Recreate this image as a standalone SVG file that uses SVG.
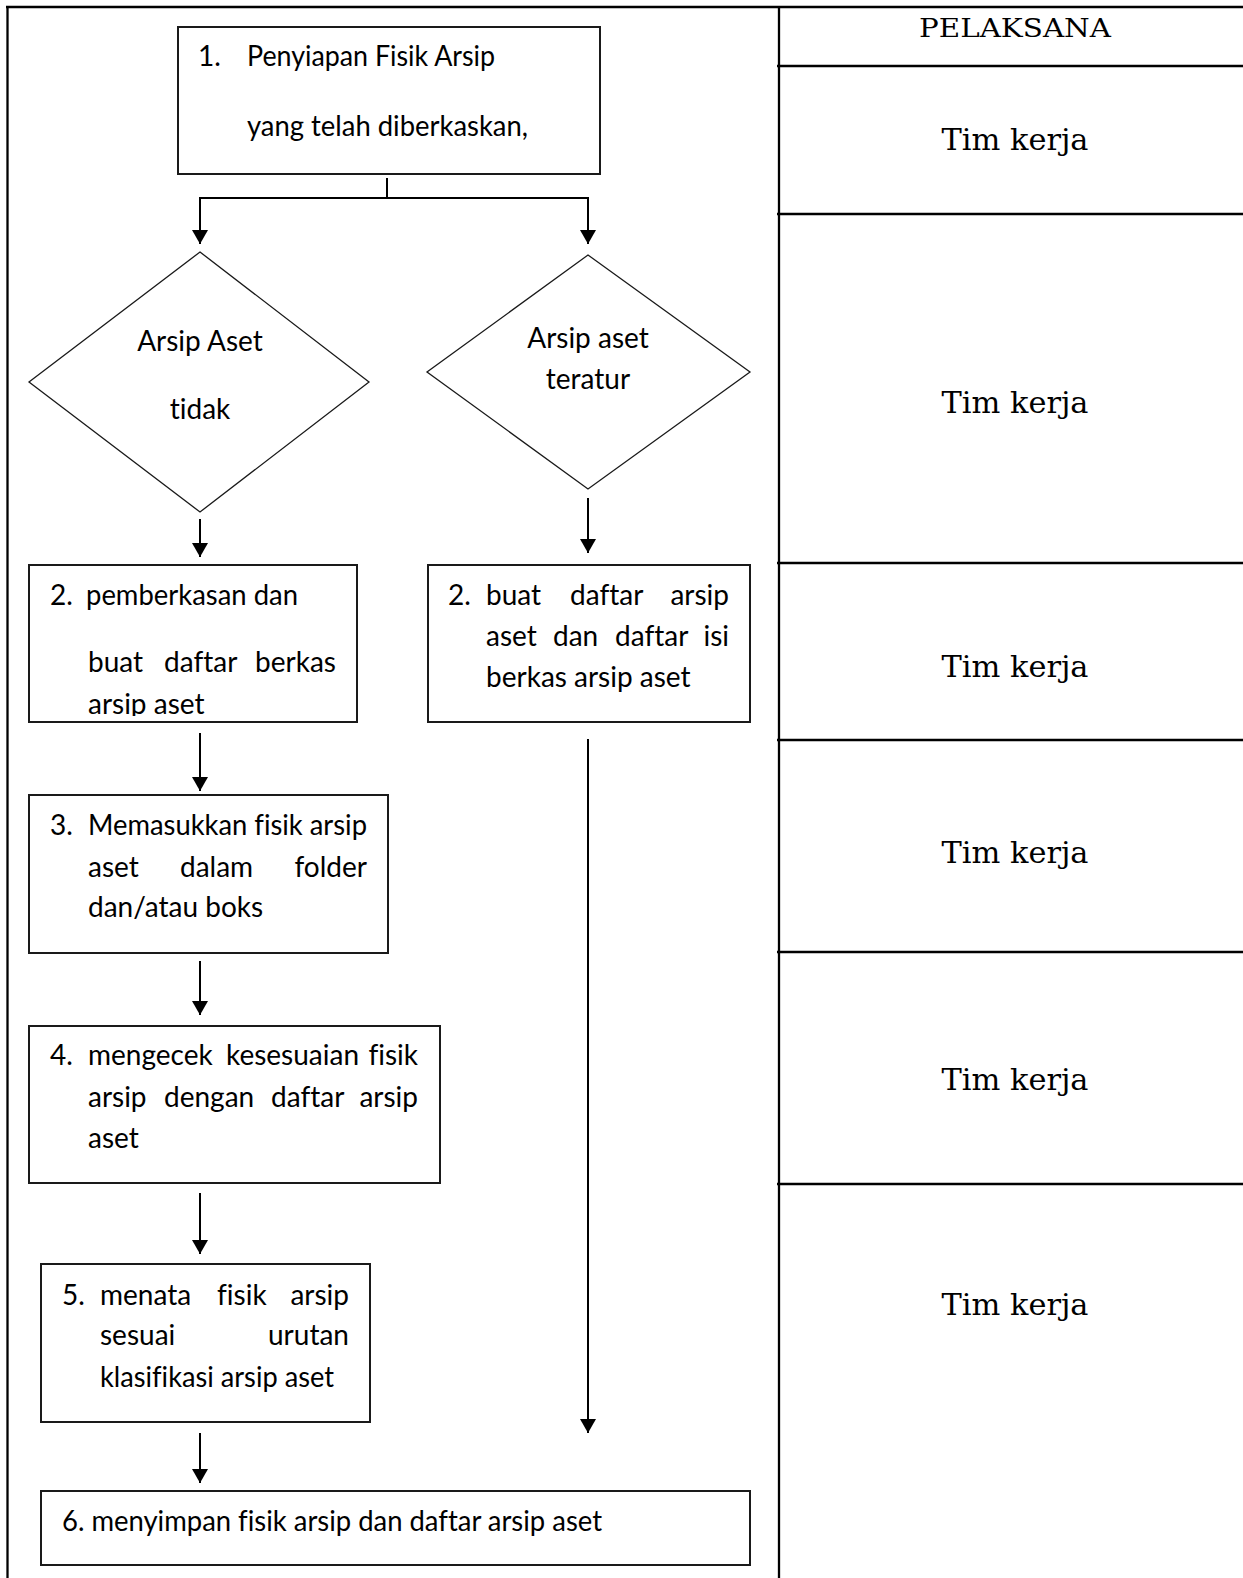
<svg xmlns="http://www.w3.org/2000/svg" width="1243" height="1578" viewBox="0 0 1243 1578">
<style>
.frame{stroke:#000;stroke-width:2.3;fill:none}
.box{fill:#fff;stroke:#1a1a1a;stroke-width:2}
.dia{fill:#fff;stroke:#1a1a1a;stroke-width:1.3}
.conn{stroke:#000;stroke-width:2;fill:none}
.t{font-family:Lato,"Liberation Sans",sans-serif;font-size:28px;fill:#000;font-variant-ligatures:none}
.tc{font-family:Lato,"Liberation Sans",sans-serif;font-size:28px;fill:#000;text-anchor:middle;font-variant-ligatures:none}
.te{text-anchor:end}
.ser{font-family:"DejaVu Serif","Liberation Serif",serif;fill:#000;text-anchor:middle}
</style>
<defs>
<marker id="arr" viewBox="0 0 14 16" refX="14" refY="8" markerWidth="14" markerHeight="16" markerUnits="userSpaceOnUse" orient="auto">
<path d="M0,0 L14,8 L0,16 Z" fill="#000"/>
</marker>
<clipPath id="clip2l"><rect x="29" y="565" width="328" height="151"/></clipPath>
</defs>
<rect width="1243" height="1578" fill="#fff"/>
<g id="table">
<line class="frame" x1="7.5" y1="6" x2="7.5" y2="1578"/>
<line class="frame" x1="6" y1="7" x2="1243" y2="7"/>
<line class="frame" x1="779" y1="7" x2="779" y2="1578"/>
<line class="frame" x1="777" y1="66" x2="1243" y2="66"/>
<line class="frame" x1="777" y1="214" x2="1243" y2="214"/>
<line class="frame" x1="777" y1="563" x2="1243" y2="563"/>
<line class="frame" x1="777" y1="740" x2="1243" y2="740"/>
<line class="frame" x1="777" y1="952" x2="1243" y2="952"/>
<line class="frame" x1="777" y1="1184" x2="1243" y2="1184"/>
<text class="ser" x="1015" y="37" font-size="26" textLength="192" lengthAdjust="spacingAndGlyphs">PELAKSANA</text>
<text class="ser" x="1015" y="150" font-size="29" textLength="147" lengthAdjust="spacingAndGlyphs">Tim kerja</text>
<text class="ser" x="1015" y="413" font-size="29" textLength="147" lengthAdjust="spacingAndGlyphs">Tim kerja</text>
<text class="ser" x="1015" y="677" font-size="29" textLength="147" lengthAdjust="spacingAndGlyphs">Tim kerja</text>
<text class="ser" x="1015" y="863" font-size="29" textLength="147" lengthAdjust="spacingAndGlyphs">Tim kerja</text>
<text class="ser" x="1015" y="1090" font-size="29" textLength="147" lengthAdjust="spacingAndGlyphs">Tim kerja</text>
<text class="ser" x="1015" y="1315" font-size="29" textLength="147" lengthAdjust="spacingAndGlyphs">Tim kerja</text>
</g>
<g id="connectors">
<line class="conn" x1="387" y1="178" x2="387" y2="198" stroke-width="1.3"/>
<polyline class="conn" points="200,198 588,198 588,244" stroke-width="2.5" marker-end="url(#arr)"/>
<line class="conn" x1="200" y1="197" x2="200" y2="244" stroke-width="2.5" marker-end="url(#arr)"/>
<line class="conn" x1="200" y1="519" x2="200" y2="557" marker-end="url(#arr)"/>
<line class="conn" x1="588" y1="498" x2="588" y2="553" marker-end="url(#arr)"/>
<line class="conn" x1="200" y1="733" x2="200" y2="791" marker-end="url(#arr)"/>
<line class="conn" x1="588" y1="739" x2="588" y2="1433" marker-end="url(#arr)"/>
<line class="conn" x1="200" y1="961" x2="200" y2="1015" marker-end="url(#arr)"/>
<line class="conn" x1="200" y1="1193" x2="200" y2="1254" marker-end="url(#arr)"/>
<line class="conn" x1="200" y1="1433" x2="200" y2="1483" marker-end="url(#arr)"/>
</g>
<g id="node1">
<rect class="box" x="178" y="27" width="422" height="147"/>
<text class="t" x="198" y="66">1.</text>
<text class="t" x="247" y="66" textLength="248" lengthAdjust="spacingAndGlyphs">Penyiapan Fisik Arsip</text>
<text class="t" x="247" y="136" textLength="281" lengthAdjust="spacingAndGlyphs">yang telah diberkaskan,</text>
</g>
<g id="decision1">
<polygon class="dia" points="200,252 369,382 200,512 29,382"/>
<text class="tc" x="200" y="351">Arsip Aset</text>
<text class="tc" x="200" y="419">tidak</text>
</g>
<g id="decision2">
<polygon class="dia" points="588,255 750,372 588,489 427,372"/>
<text class="tc" x="588" y="348">Arsip aset</text>
<text class="tc" x="588" y="389">teratur</text>
</g>
<g id="node2a">
<rect class="box" x="29" y="565" width="328" height="157"/>
<text class="t" x="50" y="605">2.</text>
<text class="t" x="86" y="605" textLength="212" lengthAdjust="spacingAndGlyphs">pemberkasan dan</text>
<text class="t" x="88" y="672">buat</text>
<text class="t" x="164" y="672">daftar</text>
<text class="t te" x="336" y="672">berkas</text>
<text class="t" x="88" y="714" clip-path="url(#clip2l)">arsip aset</text>
</g>
<g id="node2b">
<rect class="box" x="428" y="565" width="322" height="157"/>
<text class="t" x="448" y="605">2.</text>
<text class="t" x="486" y="605">buat</text>
<text class="t" x="570" y="605">daftar</text>
<text class="t te" x="729" y="605">arsip</text>
<text class="t" x="486" y="646">aset</text>
<text class="t" x="553" y="646">dan</text>
<text class="t" x="615" y="646">daftar</text>
<text class="t te" x="729" y="646">isi</text>
<text class="t" x="486" y="687">berkas arsip aset</text>
</g>
<g id="node3">
<rect class="box" x="29" y="795" width="359" height="158"/>
<text class="t" x="50" y="835">3.</text>
<text class="t" x="88" y="835" textLength="279" lengthAdjust="spacingAndGlyphs">Memasukkan fisik arsip</text>
<text class="t" x="88" y="877">aset</text>
<text class="t" x="180" y="877">dalam</text>
<text class="t te" x="367" y="877">folder</text>
<text class="t" x="88" y="917">dan/atau boks</text>
</g>
<g id="node4">
<rect class="box" x="29" y="1026" width="411" height="157"/>
<text class="t" x="50" y="1065">4.</text>
<text class="t" x="88" y="1065">mengecek</text>
<text class="t" x="226" y="1065">kesesuaian</text>
<text class="t te" x="418" y="1065">fisik</text>
<text class="t" x="88" y="1107">arsip</text>
<text class="t" x="164" y="1107">dengan</text>
<text class="t" x="271" y="1107">daftar</text>
<text class="t te" x="418" y="1107">arsip</text>
<text class="t" x="88" y="1148">aset</text>
</g>
<g id="node5">
<rect class="box" x="41" y="1264" width="329" height="158"/>
<text class="t" x="62" y="1305">5.</text>
<text class="t" x="100" y="1305">menata</text>
<text class="t" x="217" y="1305">fisik</text>
<text class="t te" x="349" y="1305">arsip</text>
<text class="t" x="100" y="1345">sesuai</text>
<text class="t te" x="349" y="1345">urutan</text>
<text class="t" x="100" y="1387" textLength="234" lengthAdjust="spacingAndGlyphs">klasifikasi arsip aset</text>
</g>
<g id="node6">
<rect class="box" x="41" y="1491" width="709" height="74"/>
<text class="t" x="62" y="1531" textLength="540" lengthAdjust="spacingAndGlyphs">6. menyimpan fisik arsip dan daftar arsip aset</text>
</g>
</svg>
